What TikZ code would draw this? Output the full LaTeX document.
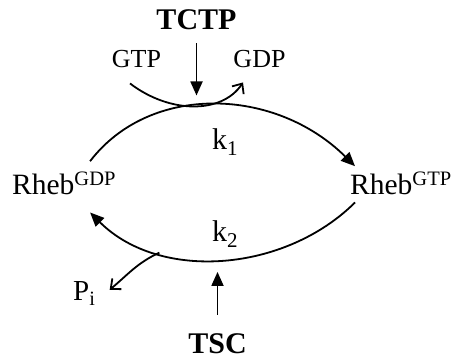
\documentclass[tikz,border=0pt]{standalone}
\usepackage{fontspec}
\setmainfont{Liberation Serif}
\usetikzlibrary{arrows.meta}
\newcommand{\upidx}[1]{\textsuperscript{\fontsize{20.5}{20.5}\selectfont #1}}

\begin{document}
\begin{tikzpicture}[x=1pt,y=1pt,>={Triangle[length=14pt,width=12pt]},
  conn/.style={line width=1.8pt},
  open/.style={line width=1.8pt,-{Straight Barb[length=8pt,width=14pt]}},
  mol/.style={font=\fontsize{29.5}{30}\selectfont,inner sep=0pt,anchor=base west},
  enz/.style={font=\fontsize{30}{30}\selectfont\bfseries,inner sep=0pt,anchor=base},
  sml/.style={font=\fontsize{26}{26}\selectfont,inner sep=0pt,anchor=base}]
\useasboundingbox (0,0) rectangle (454,358);
\node[enz] (tctp) at (196.5,328) {TCTP};
\node[enz] (tsc) at (217.5,5) {TSC};
\node[sml] (gtpin) at (136.5,290) {GTP};
\node[sml] (gdpout) at (259.5,290) {GDP};
\node[mol] (rgdp) at (12,163) {Rheb\upidx{GDP}};
\node[mol] (rgtp) at (350,163) {Rheb\upidx{GTP}};
\node[sml,font=\fontsize{30}{30}\selectfont] (k1) at (225,208) {k\textsubscript{1}};
\node[sml,font=\fontsize{30}{30}\selectfont] (k2) at (225,116) {k\textsubscript{2}};
\node[sml,anchor=base west,font=\fontsize{29}{29}\selectfont] (pi) at (73,57) {P\textsubscript{i}};
% activation by TCTP
\draw[conn,->] ([yshift=-13pt]tctp.south) -- ++(0,-52);
\draw[open] ([shift={(-6.5,-15)}]gtpin.south) .. controls (170,244) and (222,244) .. ([shift={(-16.5,-14)}]gdpout.south);
% the cycle
\draw[conn,->] ([shift={(26,11)}]rgdp.north) .. controls (150,275) and (275,271) .. ([shift={(5,6)}]rgtp.north west);
\draw[conn,->] ([shift={(5,-7)}]rgtp.south west) .. controls (285,86) and (160,76) .. ([shift={(26,-17)}]rgdp.south)
  coordinate[pos=0.72] (rel);
% hydrolysis by TSC
\draw[open] (rel) to[out=205,in=40] ([shift={(14,-8)}]pi.north east);
\draw[conn,->] ([yshift=18pt]tsc.north) -- ++(0,43);
\end{tikzpicture}
\end{document}
